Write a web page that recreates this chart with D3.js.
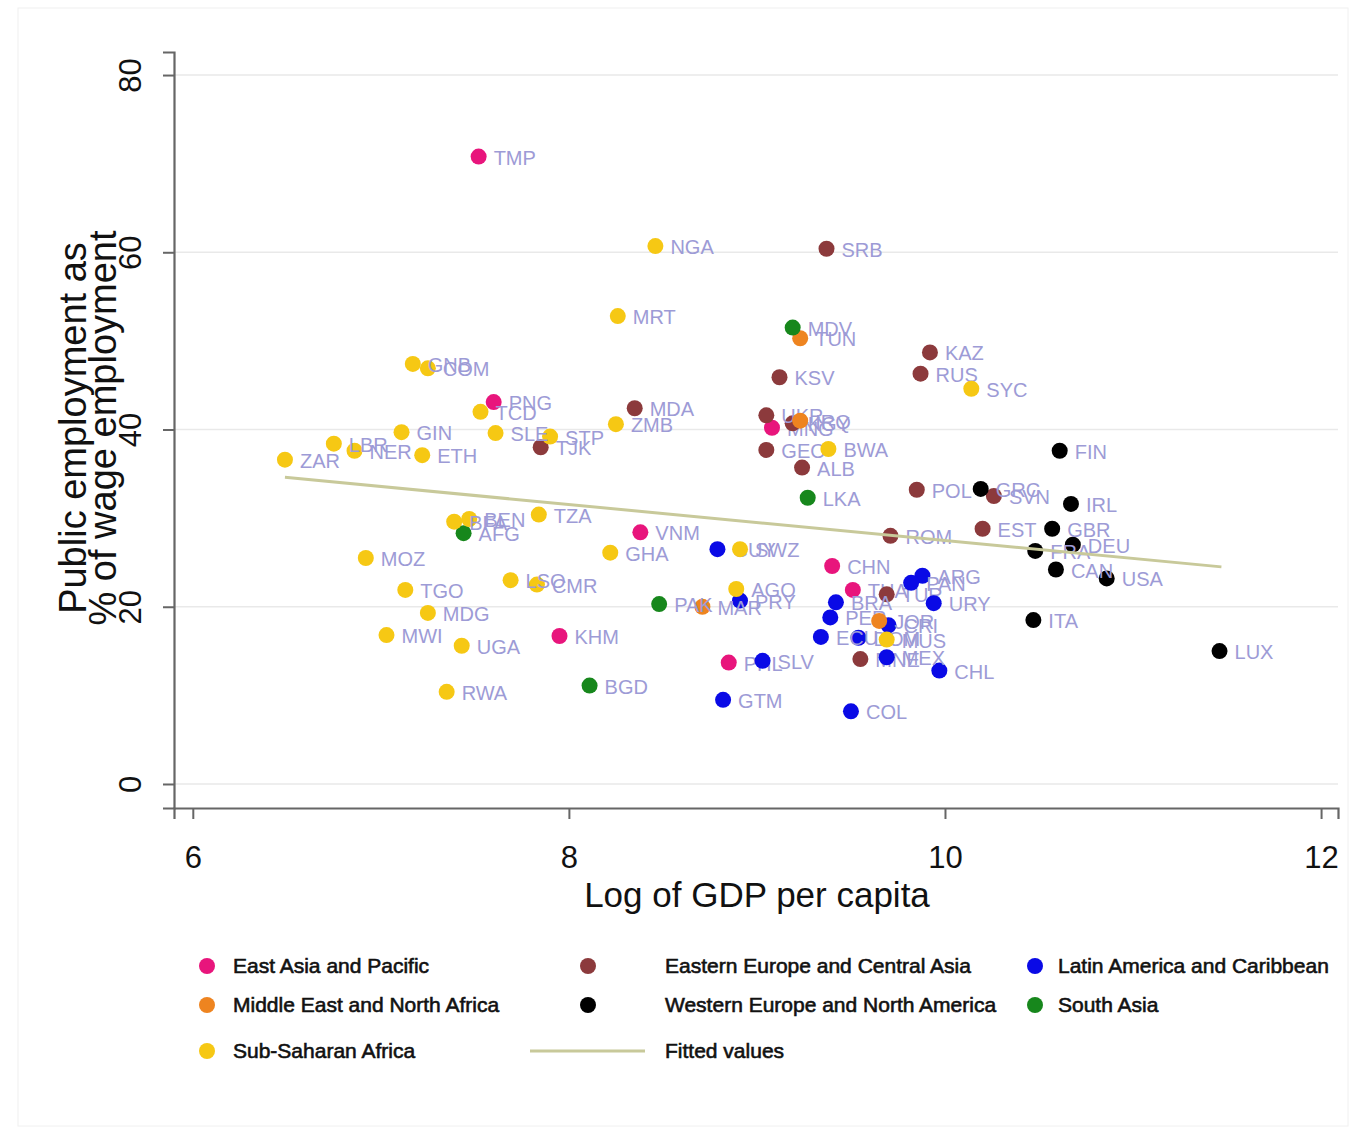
<!DOCTYPE html>
<html>
<head>
<meta charset="utf-8">
<script src="https://cdn.jsdelivr.net/npm/d3@7"></script>
<style>
  html, body { margin: 0; padding: 0; background: #fff; }
  svg { display: block; font-family: "Liberation Sans", Arial, Helvetica, sans-serif; }
</style>
</head>
<body>
<svg id="chart" width="1361" height="1136"></svg>
<script>
// Regions (legend order) and their marker colours
const regionNames = [
  "East Asia and Pacific",
  "Eastern Europe and Central Asia",
  "Latin America and Caribbean",
  "Middle East and North Africa",
  "Western Europe and North America",
  "South Asia",
  "Sub-Saharan Africa"
];
const regionColors = ["#e8157c", "#8c3a3c", "#0a0ae6", "#ee8420", "#000000", "#17871c", "#f6c814"];

// Country observations: code, region index, log GDP per capita, public employment share
const codes = [
  "TMP","PNG","MNG","VNM","CHN","THA","KHM","PHL",
  "SRB","KAZ","RUS","KSV","MDA","UKR","KGY","TJK","GEO","ALB","POL","SVN","EST","ROM","TUR","MNE",
  "GUY","PRY","SLV","GTM","COL","CHL","URY","ARG","PAN","BRA","PER","ECU","DOM","CRI","MEX",
  "TUN","IRQ","MAR","JOR",
  "FIN","GRC","IRL","GBR","DEU","FRA","CAN","USA","ITA","LUX",
  "MDV","LKA","AFG","PAK","BGD",
  "NGA","MRT","GNB","COM","SYC","TCD","ZMB","SLE","STP","GIN","LBR","NER","ETH","ZAR","BWA",
  "TZA","BFA","BEN","MOZ","GHA","SWZ","LSO","CMR","TGO","AGO","MDG","MWI","UGA","RWA","MUS"
];
const regionOf = [
  0,0,0,0,0,0,0,0,
  1,1,1,1,1,1,1,1,1,1,1,1,1,1,1,1,
  2,2,2,2,2,2,2,2,2,2,2,2,2,2,2,
  3,3,3,3,
  4,4,4,4,4,4,4,4,4,4,
  5,5,5,5,5,
  6,6,6,6,6,6,6,6,6,6,6,6,6,6,6,
  6,6,6,6,6,6,6,6,6,6,6,6,6,6,6
];
const logGdp = [
  7.52,7.60,9.08,8.38,9.40,9.51,7.95,8.85,
  9.37,9.92,9.87,9.12,8.35,9.05,9.19,7.85,9.05,9.24,9.85,10.26,10.20,9.71,9.69,9.55,
  8.79,8.91,9.03,8.82,9.50,9.97,9.94,9.88,9.82,9.42,9.39,9.34,9.54,9.70,9.69,
  9.23,9.23,8.71,9.65,
  10.61,10.19,10.67,10.57,10.68,10.48,10.59,10.86,10.47,11.46,
  9.19,9.27,7.44,8.48,8.11,
  8.46,8.26,7.17,7.25,10.14,7.53,8.25,7.61,7.90,7.11,6.75,6.86,7.22,6.49,9.38,
  7.84,7.39,7.47,6.92,8.22,8.91,7.69,7.83,7.13,8.89,7.25,7.03,7.43,7.35,9.69
];
const publicShare = [
  70.8,43.1,40.2,28.4,24.6,21.9,16.7,13.7,
  60.4,48.7,46.3,45.9,42.4,41.6,40.7,38.0,37.7,35.7,33.2,32.5,28.8,28.0,21.4,14.1,
  26.5,20.7,13.9,9.5,8.2,12.8,20.4,23.5,22.7,20.5,18.8,16.6,16.5,17.9,14.3,
  50.3,41.0,20.0,18.4,
  37.6,33.3,31.6,28.8,27.0,26.3,24.2,23.2,18.5,15.0,
  51.5,32.3,28.3,20.3,11.1,
  60.7,52.8,47.4,46.9,44.6,42.0,40.6,39.6,39.2,39.7,38.4,37.6,37.1,36.6,37.8,
  30.4,29.6,29.9,25.5,26.1,26.5,23.0,22.5,21.9,22.0,19.3,16.8,15.6,10.4,16.3
];

// Linear fit end points
const fittedX = [6.49, 11.47];
const fittedY = [34.6, 24.5];

// Axis ticks
const xTicks = [6, 8, 10, 12];
const yTicks = [0, 20, 40, 60, 80];

const svg = d3.select("#chart");

// faint outer frame
svg.append("rect")
  .attr("x", 18).attr("y", 8).attr("width", 1330).attr("height", 1118)
  .attr("fill", "none").attr("stroke", "#f0f0f0").attr("stroke-width", 1);

const x = d3.scaleLinear().domain([5.9, 12.09]).range([174, 1338]);
const y = d3.scaleLinear().domain([-2.71, 82.6]).range([808, 52]);

// horizontal grid
svg.append("g")
  .selectAll("line")
  .data(yTicks)
  .join("line")
  .attr("x1", x.range()[0]).attr("x2", x.range()[1])
  .attr("y1", d => y(d)).attr("y2", d => y(d))
  .attr("stroke", "#e9e9e9").attr("stroke-width", 1.5);

// axes
const xAxis = svg.append("g")
  .attr("transform", `translate(0,${y.range()[0]})`)
  .call(d3.axisBottom(x).tickValues(xTicks).tickSize(11).tickPadding(27).tickFormat(d3.format("d")));
const yAxis = svg.append("g")
  .attr("transform", `translate(${x.range()[0]},0)`)
  .call(d3.axisLeft(y).tickValues(yTicks).tickSize(11).tickFormat(d3.format("d")));

[xAxis, yAxis].forEach(g => {
  g.select(".domain").attr("stroke", "#666").attr("stroke-width", 2.2);
  g.selectAll(".tick line").attr("stroke", "#666").attr("stroke-width", 2);
  g.selectAll(".tick text").attr("fill", "#111").style("font-size", "31px");
});
// vertical tick labels on the y axis
yAxis.selectAll(".tick text")
  .attr("x", null).attr("dy", null)
  .attr("text-anchor", "middle")
  .attr("transform", "translate(-33,0) rotate(-90)");

// axis titles
svg.append("text")
  .attr("x", 757).attr("y", 907)
  .attr("text-anchor", "middle")
  .style("font-size", "35px").attr("fill", "#111")
  .text("Log of GDP per capita");
const yTitle = svg.append("text")
  .attr("transform", "translate(86,428) rotate(-90)")
  .attr("text-anchor", "middle")
  .style("font-size", "38px").attr("fill", "#111");
yTitle.append("tspan").attr("x", 0).attr("dy", 0).text("Public employment as");
yTitle.append("tspan").attr("x", 0).attr("dy", 30).text("% of wage employment");

// points and labels, drawn region by region
const points = codes.map((c, i) => ({ code: c, r: regionOf[i], gx: logGdp[i], py: publicShare[i] }));
const plot = svg.append("g");
regionNames.forEach((name, ri) => {
  const sub = points.filter(p => p.r === ri);
  const g = plot.append("g");
  g.selectAll("circle")
    .data(sub)
    .join("circle")
    .attr("cx", d => x(d.gx)).attr("cy", d => y(d.py))
    .attr("r", 8)
    .attr("fill", regionColors[ri]);
  g.selectAll("text")
    .data(sub)
    .join("text")
    .attr("x", d => x(d.gx) + 15).attr("y", d => y(d.py) + 8)
    .style("font-size", "20px")
    .attr("fill", "#9d9bd6")
    .text(d => d.code);
});

// fitted values line
svg.append("path")
  .datum(fittedX.map((v, i) => [v, fittedY[i]]))
  .attr("d", d3.line().x(d => x(d[0])).y(d => y(d[1])))
  .attr("fill", "none").attr("stroke", "#c8c99a").attr("stroke-width", 3);

// legend
const legendCols = [[207, 233], [588, 665], [1035, 1058]];
const legendRows = [966, 1005, 1051];
const legendItems = regionNames.map((n, i) => ({ label: n, color: regionColors[i], type: "dot" }))
  .concat([{ label: "Fitted values", color: "#c8c99a", type: "line" }]);
const leg = svg.append("g");
legendItems.forEach((it, i) => {
  const col = legendCols[i % 3], row = legendRows[Math.floor(i / 3)];
  if (it.type === "dot") {
    leg.append("circle").attr("cx", col[0]).attr("cy", row).attr("r", 8).attr("fill", it.color);
  } else {
    leg.append("line").attr("x1", 530).attr("x2", 645).attr("y1", row).attr("y2", row)
      .attr("stroke", it.color).attr("stroke-width", 3);
  }
  leg.append("text").attr("x", col[1]).attr("y", row + 7)
    .style("font-size", "21px").attr("fill", "#111")
    .attr("stroke", "#111").attr("stroke-width", 0.6)
    .text(it.label);
});
</script>
</body>
</html>
